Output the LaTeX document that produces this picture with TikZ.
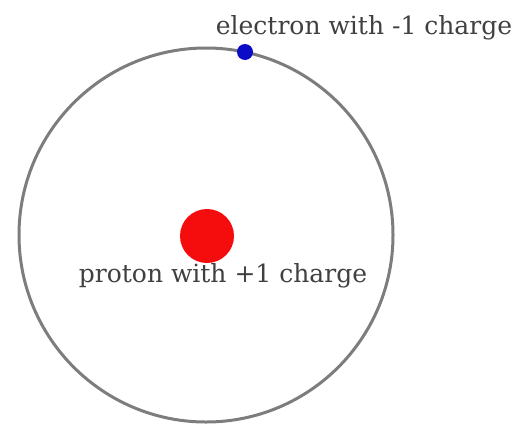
\documentclass[tikz,border=0pt]{standalone}
\usepackage{fontspec}
\setmainfont{DejaVu Serif}
\usepackage{xcolor}
\usepackage{tikz}
\usetikzlibrary{positioning}
\definecolor{orbitgray}{RGB}{125,125,125}
\definecolor{protonred}{RGB}{245,12,12}
\definecolor{electronblue}{RGB}{12,12,200}

\begin{document}
\begin{tikzpicture}[x=1pt,y=-1pt,
  lab/.style={font=\fontsize{25}{30}\selectfont,text=black!75,inner sep=0pt,anchor=base},
  particle/.style={circle,inner sep=0pt}]
\useasboundingbox (0,0) rectangle (518,426);
% orbit
\draw[orbitgray,line width=3pt] (206,235) circle [radius=187];
\node[particle,fill=protonred,minimum size=54pt] (proton) at (207,236) {};
\node[particle,fill=electronblue,minimum size=16pt] (electron) at (245,52) {};
% labels
\node[lab] (protonlab) at (223,282) {proton with +1 charge};
\node[lab] (electronlab) at (364,34) {electron with -1 charge};
\end{tikzpicture}
\end{document}
